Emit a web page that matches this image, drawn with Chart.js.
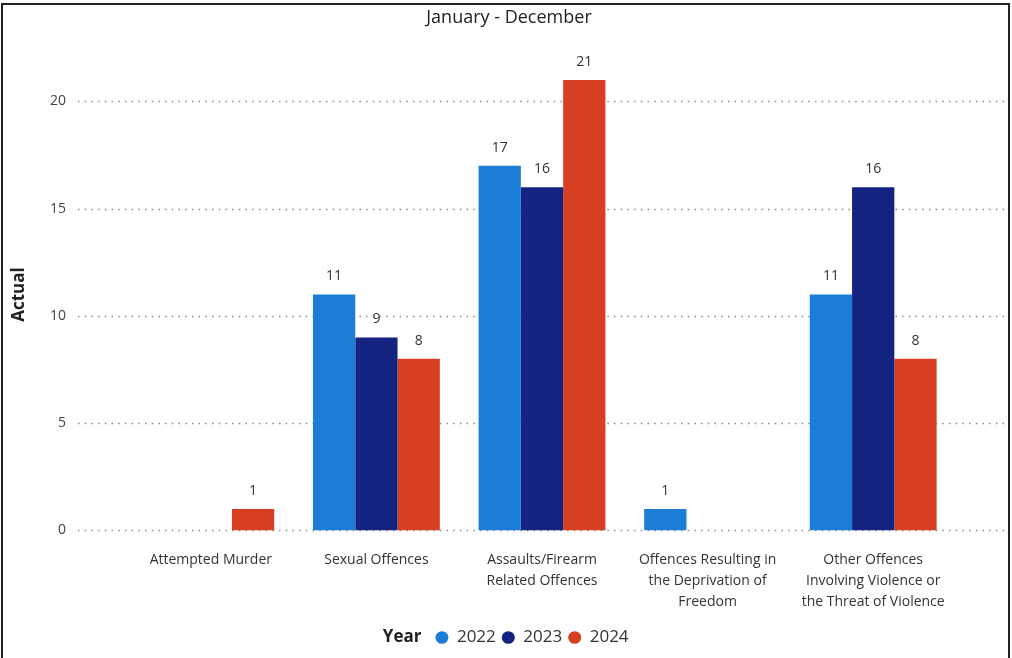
<!DOCTYPE html>
<html>
<head>
<meta charset="utf-8">
<script src="https://cdn.jsdelivr.net/npm/chart.js@4.4.0/dist/chart.umd.min.js"></script>
<style>
    body { margin: 0; background: #fff; overflow: hidden; }
    #wrap { position: relative; width: 1012px; height: 658px; }
    #frame {
        position: absolute; left: 1px; top: 3px; width: 1005px; height: 660px;
        border: 2px solid #222; border-bottom: none; pointer-events: none;
    }
</style>
</head>
<body>
<div id="wrap">
    <canvas id="chart"></canvas>
    <div id="frame"></div>
</div>
<script>
// Categories (x axis), wrapped the way the report wraps them
const categories = [
    ['Attempted Murder'],
    ['Sexual Offences'],
    ['Assaults/Firearm', 'Related Offences'],
    ['Offences Resulting in', 'the Deprivation of', 'Freedom'],
    ['Other Offences', 'Involving Violence or', 'the Threat of Violence']
];
const years = ['2022', '2023', '2024'];
// null = no bar shown
const values2022 = [null, 11, 17, 1, 11];
const values2023 = [null, 9, 16, null, 16];
const values2024 = [1, 8, 21, null, 8];
const yTicks = [0, 5, 10, 15, 20];

const colors = ['#1C7DD6', '#14237F', '#D63F22'];
const font = "'Open Sans', 'Noto Sans', sans-serif";

// dotted gridlines, wider than the plot area
const gridPlugin = {
    id: 'dotGrid',
    beforeDatasetsDraw(chart) {
        const ctx = chart.ctx;
        const y = chart.scales.y;
        const area = chart.chartArea;
        ctx.save();
        ctx.strokeStyle = '#8a8a8a';
        ctx.lineWidth = 1.5;
        ctx.setLineDash([1.5, 5.2]);
        yTicks.forEach(v => {
            const py = Math.round(y.getPixelForValue(v)) + 0.5;
            ctx.beginPath();
            ctx.moveTo(area.left - 50, py);
            ctx.lineTo(area.right + 49, py);
            ctx.stroke();
        });
        ctx.restore();
    }
};

// value labels above each bar
const labelPlugin = {
    id: 'barLabels',
    afterDatasetsDraw(chart) {
        const ctx = chart.ctx;
        ctx.save();
        ctx.font = '14px ' + font;
        ctx.fillStyle = '#333';
        ctx.textAlign = 'center';
        ctx.textBaseline = 'middle';
        chart.data.datasets.forEach((ds, i) => {
            const meta = chart.getDatasetMeta(i);
            meta.data.forEach((bar, j) => {
                const v = ds.data[j];
                if (v === null || v === undefined) return;
                ctx.fillText(v, bar.x, bar.y - 18);
            });
        });
        ctx.restore();
    }
};

// title centred a bit right, "Year" caption in front of the legend items
const legendCaption = {
    id: 'legendCaption',
    afterLayout(chart) {
        chart.legend.left += 102;
        chart.titleBlock.right += 56;
    },
    afterDraw(chart) {
        const lg = chart.legend;
        if (!lg.legendHitBoxes.length) return;
        const first = lg.legendHitBoxes[0];
        const ctx = chart.ctx;
        ctx.save();
        ctx.font = 'bold 17px ' + font;
        ctx.fillStyle = '#222';
        ctx.textAlign = 'right';
        ctx.textBaseline = 'middle';
        ctx.fillText('Year', first.left - 14, first.top + first.height / 2);
        ctx.restore();
    }
};

new Chart(document.getElementById('chart'), {
    type: 'bar',
    data: {
        labels: categories,
        datasets: [
            { label: years[0], data: values2022, backgroundColor: colors[0] },
            { label: years[1], data: values2023, backgroundColor: colors[1] },
            { label: years[2], data: values2024, backgroundColor: colors[2] }
        ]
    },
    options: {
        responsive: true,
        maintainAspectRatio: false,
        animation: false,
        layout: { autoPadding: false, padding: { left: 6, right: 56, top: 0, bottom: 2 } },
        datasets: {
            bar: { categoryPercentage: 0.766, barPercentage: 1.0 }
        },
        plugins: {
            title: {
                display: true,
                text: 'January - December',
                color: '#222',
                font: { family: font, size: 18, weight: 'normal' },
                padding: { top: 7, bottom: 30 }
            },
            legend: {
                position: 'bottom',
                labels: {
                    usePointStyle: true,
                    pointStyle: 'circle',
                    boxHeight: 9,
                    pointStyleWidth: 13,
                    padding: 6,
                    color: '#333',
                    font: { family: font, size: 17 }
                }
            },
            tooltip: { enabled: false }
        },
        scales: {
            x: {
                grid: { display: false, drawTicks: false },
                border: { display: false },
                ticks: {
                    color: '#333',
                    padding: 19,
                    maxRotation: 0,
                    autoSkip: false,
                    font: { family: font, size: 14, lineHeight: 1.5 }
                },
                afterFit(scale) { scale.height = 92.6; }
            },
            y: {
                min: 0,
                max: 22,
                // tick marks stay hidden, their length just pushes the labels left
                grid: { display: false, drawTicks: true, tickLength: 54 },
                border: { display: false },
                ticks: {
                    stepSize: 5,
                    padding: 8,
                    color: '#444',
                    font: { family: font, size: 14 }
                },
                afterBuildTicks(scale) {
                    scale.ticks = yTicks.map(v => ({ value: v }));
                },
                title: {
                    display: true,
                    text: 'Actual',
                    color: '#222',
                    font: { family: font, size: 17, weight: 'bold' },
                    padding: { top: 3, bottom: 0 }
                },
                afterFit(scale) { scale.width = 122; }
            }
        }
    },
    plugins: [gridPlugin, labelPlugin, legendCaption]
});
</script>
</body>
</html>
